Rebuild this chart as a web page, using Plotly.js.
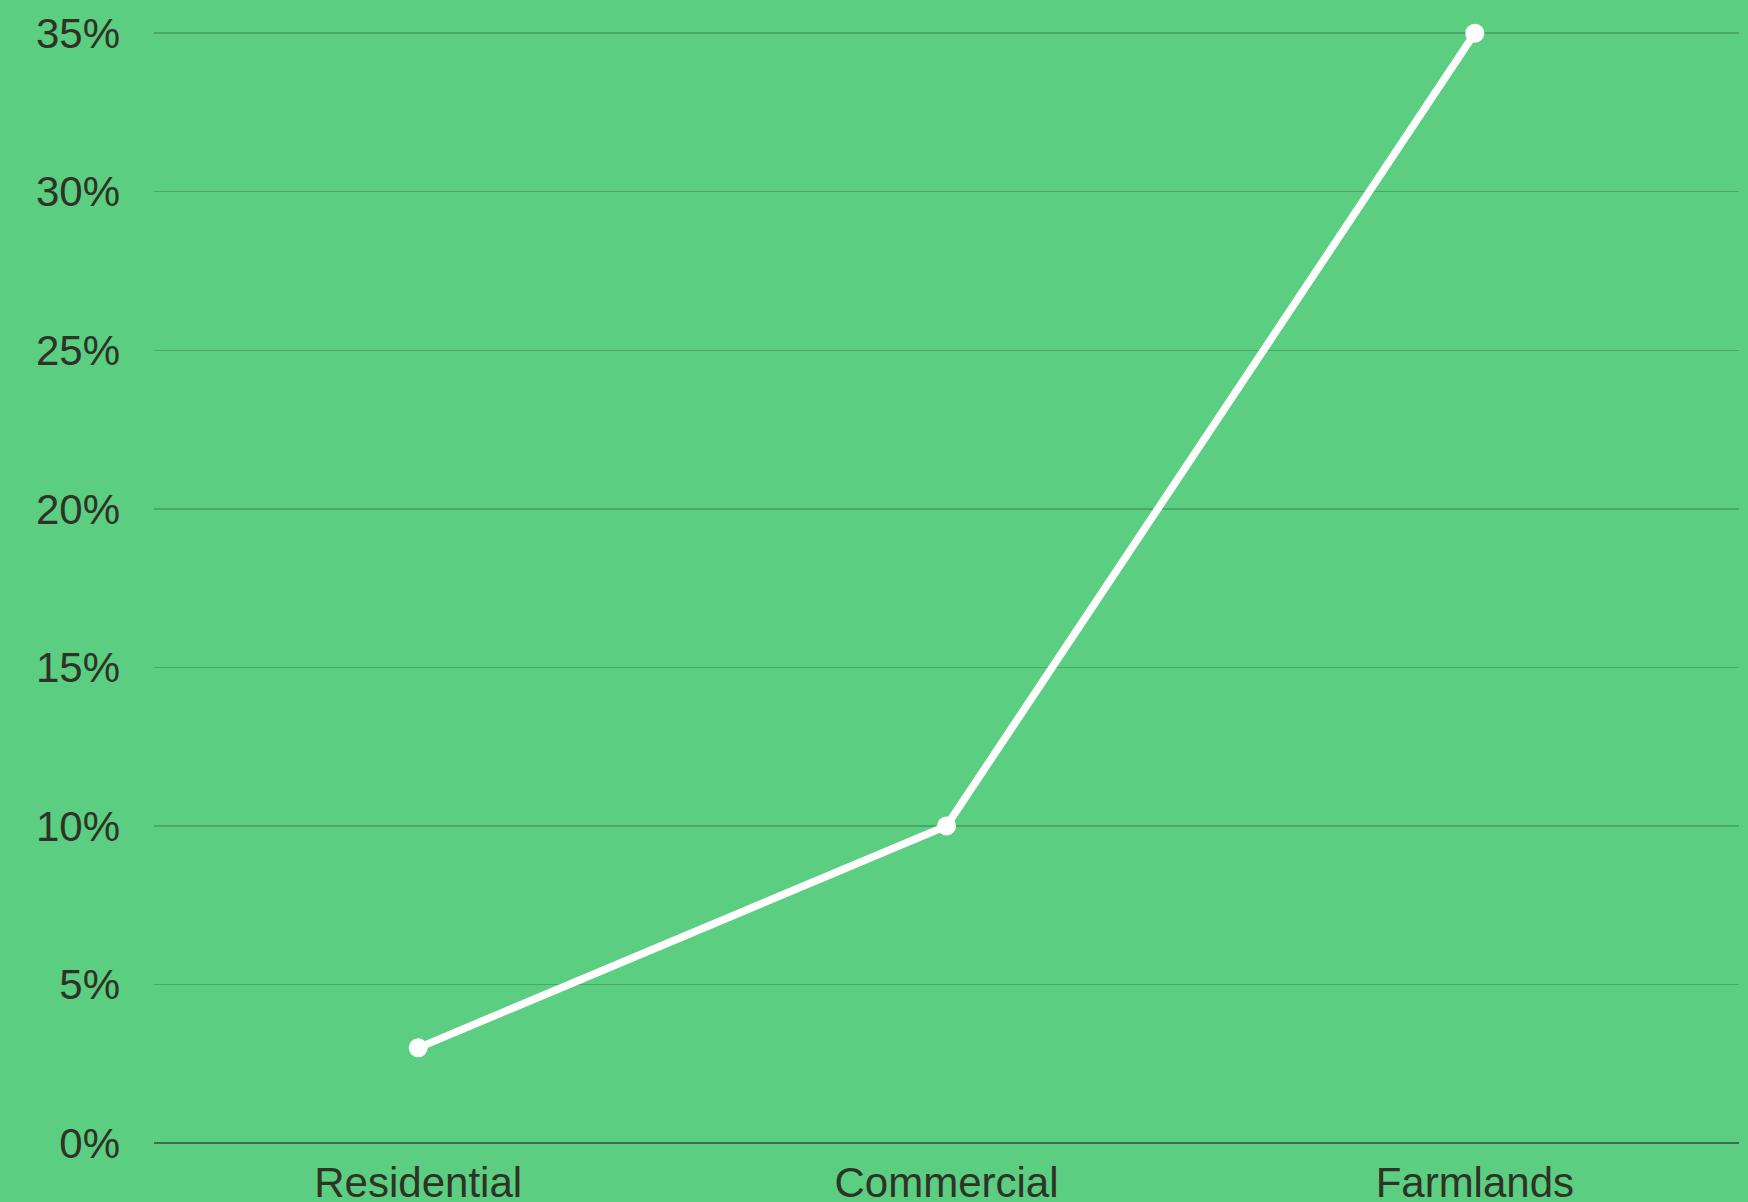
<!DOCTYPE html>
<html>
<head>
<meta charset="utf-8">
<script src="https://cdn.plot.ly/plotly-3.0.1.min.js"></script>
<style>html,body{margin:0;padding:0;background:#5bce81;}#chart{width:1748px;height:1202px;}</style>
</head>
<body>
<div id="chart"></div>
<script>
const categories = ["Residential", "Commercial", "Farmlands"];
const values = [3, 10, 35];
const yTickVals = [0, 5, 10, 15, 20, 25, 30, 35];
const yTickText = ["0%", "5%", "10%", "15%", "20%", "25%", "30%", "35%"];

const trace = {
  type: "scatter",
  mode: "lines+markers",
  x: categories,
  y: values,
  line: {color: "#ffffff", width: 7.5},
  marker: {color: "#ffffff", size: 19},
  cliponaxis: false,
  hoverinfo: "skip"
};

const layout = {
  width: 1748,
  height: 1202,
  paper_bgcolor: "#5bce81",
  plot_bgcolor: "#5bce81",
  margin: {l: 154, r: 9, t: 30, b: 59},
  showlegend: false,
  font: {family: "Liberation Sans, Arial, sans-serif", size: 42, color: "#2e3326"},
  xaxis: {
    type: "category",
    range: [-0.5, 2.5],
    showgrid: false,
    zeroline: false,
    showline: false,
    ticks: "",
    ticklabelstandoff: 11,
    tickfont: {size: 42, color: "#2e3326"}
  },
  yaxis: {
    range: [0, 35.1],
    tickvals: yTickVals,
    ticktext: yTickText,
    showgrid: true,
    gridcolor: "#4ca865",
    gridwidth: 1.5,
    zeroline: true,
    zerolinecolor: "#3f6e47",
    zerolinewidth: 2,
    showline: false,
    ticks: "",
    ticklabelstandoff: 33,
    tickfont: {size: 42, color: "#2e3326"}
  }
};

Plotly.newPlot("chart", [trace], layout, {staticPlot: true, displayModeBar: false});
</script>
</body>
</html>
